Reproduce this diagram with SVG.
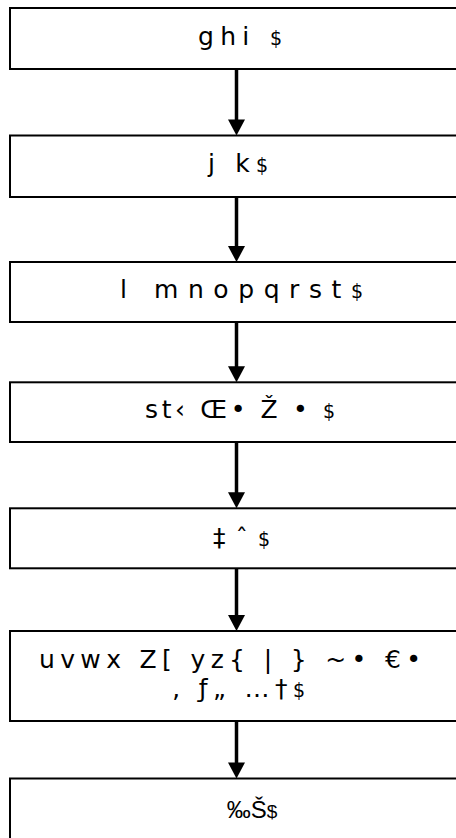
<svg xmlns="http://www.w3.org/2000/svg" width="456" height="838" viewBox="0 0 456 838">
<style>
.box{fill:#fff;stroke:#000;stroke-width:2}
.t{font-family:"DejaVu Sans","Liberation Sans",sans-serif;font-size:25px;fill:#000;text-anchor:middle}
.d{font-size:19px}
.n{font-family:"Liberation Sans","DejaVu Sans",sans-serif;font-size:24px}
.c{stroke:#000;stroke-width:3.5;fill:none}
</style>
<defs>
<marker id="ah" markerUnits="userSpaceOnUse" markerWidth="17" markerHeight="17" viewBox="0 0 16 17" refX="6" refY="8.5" orient="auto">
<path d="M0,0 L16,8.5 L0,17 Z" fill="#000"/>
</marker>
</defs>
<rect width="456" height="838" fill="#fff"/>
<g id="connectors">
<line class="c" x1="236.5" y1="69" x2="236.5" y2="125.5" marker-end="url(#ah)"/>
<line class="c" x1="236.5" y1="197" x2="236.5" y2="252" marker-end="url(#ah)"/>
<line class="c" x1="236.5" y1="322" x2="236.5" y2="372.3" marker-end="url(#ah)"/>
<line class="c" x1="236.5" y1="442" x2="236.5" y2="498.3" marker-end="url(#ah)"/>
<line class="c" x1="236.5" y1="568.3" x2="236.5" y2="621" marker-end="url(#ah)"/>
<line class="c" x1="236.5" y1="721" x2="236.5" y2="768.5" marker-end="url(#ah)"/>
</g>
<g id="n1">
<rect class="box" x="10" y="8" width="453" height="61"/>
<text class="t" x="240" y="45" textLength="84" lengthAdjust="spacing">ghi <tspan class="d">$</tspan></text>
</g>
<g id="n2">
<rect class="box" x="10" y="135.5" width="453" height="61.5"/>
<text class="t" x="238" y="172" textLength="60" lengthAdjust="spacing">j k<tspan class="d">$</tspan></text>
</g>
<g id="n3">
<rect class="box" x="10" y="262" width="453" height="60"/>
<text class="t" x="241.5" y="298" textLength="243" lengthAdjust="spacing">l mnopqrst<tspan class="d">$</tspan></text>
</g>
<g id="n4">
<rect class="box" x="10" y="382.3" width="453" height="59.7"/>
<text class="t" x="240" y="418" textLength="190" lengthAdjust="spacing">st‹ Œ• Ž • <tspan class="d">$</tspan></text>
</g>
<g id="n5">
<rect class="box" x="10" y="508.3" width="453" height="60"/>
<text class="t" x="241.5" y="546" textLength="57" lengthAdjust="spacing">‡ ˆ <tspan class="d">$</tspan></text>
</g>
<g id="n6">
<rect class="box" x="10" y="631" width="453" height="90"/>
<text class="t" x="230" y="668" textLength="382" lengthAdjust="spacing">uvwx Z[ yz{ | } ~• €•</text>
<text class="t" x="238.5" y="697" textLength="133" lengthAdjust="spacing">‚ ƒ„ …†<tspan class="d">$</tspan></text>
</g>
<g id="n7">
<rect class="box" x="10" y="778.5" width="453" height="70"/>
<text class="t n" x="252" y="818">‰Š<tspan class="d">$</tspan></text>
</g>
</svg>
